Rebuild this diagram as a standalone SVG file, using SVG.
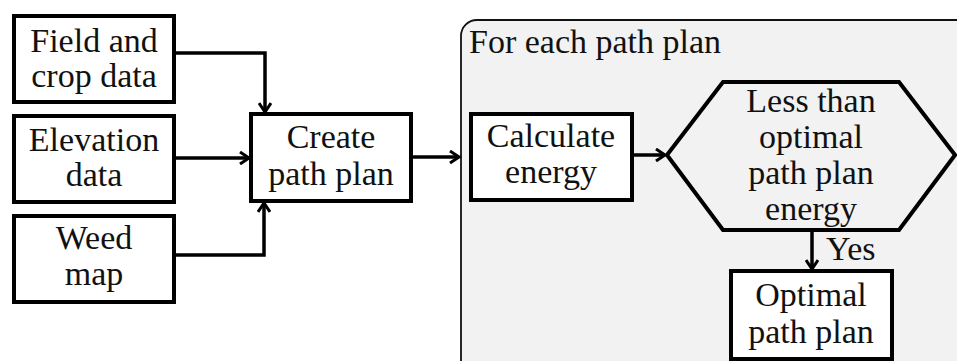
<svg xmlns="http://www.w3.org/2000/svg" width="957" height="361" viewBox="0 0 957 361">
<defs>
<style>
.box{fill:#fff;stroke:#000;stroke-width:4}
.t{font-family:"Liberation Serif","Times New Roman",serif;font-size:34px;fill:#111;text-anchor:middle}
.tl{text-anchor:start}
.c{fill:none;stroke:#000;stroke-width:3.5}
</style>
<marker id="ah" markerWidth="14" markerHeight="14" refX="11" refY="7" orient="auto" markerUnits="userSpaceOnUse">
<path d="M2,1 L11,7 L2,13" fill="none" stroke="#000" stroke-width="3"/>
</marker>
</defs>
<rect width="957" height="361" fill="#fff"/>
<g id="container">
<rect x="461" y="20" width="520" height="370" rx="16" fill="#f2f2f2" stroke="#111" stroke-width="1.8"/>
<text class="t tl" x="469" y="53">For each path plan</text>
</g>
<g id="field">
<rect class="box" x="14" y="16" width="160" height="86"/>
<text class="t" x="94" y="52">Field and</text>
<text class="t" x="94" y="87">crop data</text>
</g>
<g id="elevation">
<rect class="box" x="14" y="116" width="160" height="86"/>
<text class="t" x="94" y="151">Elevation</text>
<text class="t" x="94" y="186">data</text>
</g>
<g id="weed">
<rect class="box" x="14" y="216" width="160" height="86"/>
<text class="t" x="94" y="249">Weed</text>
<text class="t" x="94" y="285">map</text>
</g>
<g id="create">
<rect class="box" x="251" y="114" width="160" height="87"/>
<text class="t" x="331" y="148">Create</text>
<text class="t" x="331" y="185">path plan</text>
</g>
<g id="calculate">
<rect class="box" x="471" y="114" width="161" height="86"/>
<text class="t" x="551" y="147">Calculate</text>
<text class="t" x="551" y="183">energy</text>
</g>
<g id="decision">
<polygon points="667,155 723,82 899,82 955,155 899,230 723,230" fill="#f2f2f2" stroke="#000" stroke-width="4"/>
<text class="t" x="811" y="112">Less than</text>
<text class="t" x="811" y="148">optimal</text>
<text class="t" x="811" y="184">path plan</text>
<text class="t" x="811" y="220">energy</text>
</g>
<g id="optimal">
<rect class="box" x="731" y="271" width="161" height="88"/>
<text class="t" x="811" y="306">Optimal</text>
<text class="t" x="811" y="343">path plan</text>
</g>
<g id="connectors">
<path class="c" d="M174,53 H265 V112" marker-end="url(#ah)"/>
<path class="c" d="M174,158 H249" marker-end="url(#ah)"/>
<path class="c" d="M174,255 H264 V203" marker-end="url(#ah)"/>
<path class="c" d="M411,157 H459" marker-end="url(#ah)"/>
<path class="c" d="M632,155 H665" marker-end="url(#ah)"/>
<path class="c" d="M812,230 V269" marker-end="url(#ah)"/>
<text class="t tl" x="826" y="260">Yes</text>
</g>
</svg>
